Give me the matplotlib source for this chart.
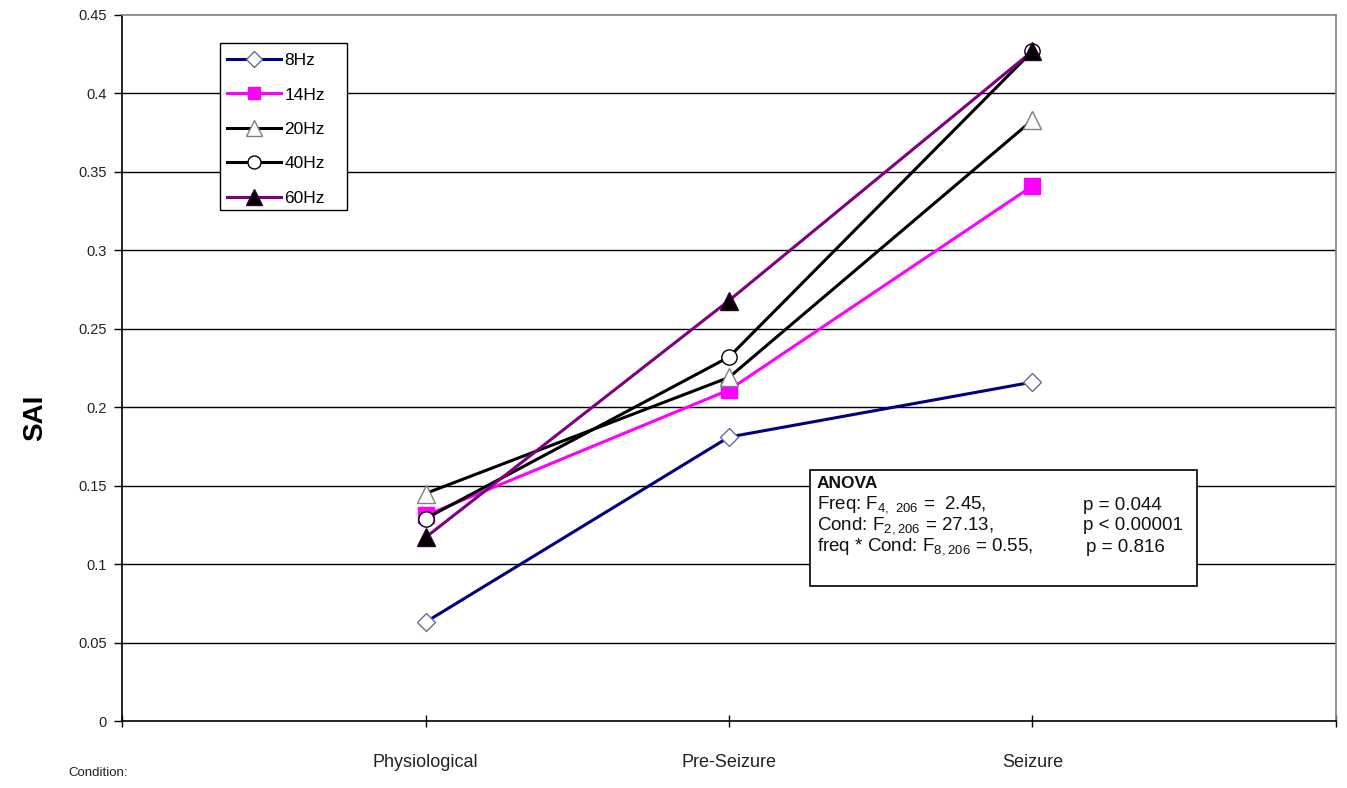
import numpy as np
import matplotlib
matplotlib.use("Agg")
import matplotlib.pyplot as plt

plt.rcParams['font.family'] = ['Liberation Sans', 'DejaVu Sans']
plt.rcParams['mathtext.fontset'] = 'custom'
plt.rcParams['mathtext.rm'] = 'Liberation Sans'

conditions = ["Physiological", "Pre-Seizure", "Seizure"]
sai_8hz = [0.063, 0.181, 0.216]
sai_14hz = [0.131, 0.211, 0.341]
sai_20hz = [0.145, 0.219, 0.383]
sai_40hz = [0.129, 0.232, 0.427]
sai_60hz = [0.117, 0.268, 0.427]
y_ticks = [0, 0.05, 0.1, 0.15, 0.2, 0.25, 0.3, 0.35, 0.4, 0.45]
y_tick_labels = ["0", "0.05", "0.1", "0.15", "0.2", "0.25", "0.3", "0.35", "0.4", "0.45"]

W, H = 1347, 788


def px(xp, yp):
    return xp / W, 1 - yp / H


fig = plt.figure(figsize=(W / 100, H / 100), dpi=100)
ax = fig.add_axes([0.0906, 0.085, 0.9012, 0.896])

x = np.arange(1, len(conditions) + 1)

series = [
    ("8Hz", sai_8hz, dict(color="#000080", marker="D", markersize=9,
                         markerfacecolor="white", markeredgecolor="#6a6a9a")),
    ("14Hz", sai_14hz, dict(color="#ff00ff", marker="s", markersize=11,
                           markerfacecolor="#ff00ff", markeredgecolor="#ff00ff")),
    ("20Hz", sai_20hz, dict(color="black", marker="^", markersize=13,
                           markerfacecolor="white", markeredgecolor="#808080")),
    ("40Hz", sai_40hz, dict(color="black", marker="o", markersize=11,
                           markerfacecolor="white", markeredgecolor="black")),
    ("60Hz", sai_60hz, dict(color="#800080", marker="^", markersize=13,
                           markerfacecolor="black", markeredgecolor="#300030")),
]

for i, (name, vals, style) in enumerate(series):
    ax.plot(x, vals, label=name, linewidth=2.2, markeredgewidth=1.0,
            zorder=3 + i, **style)

# horizontal gridlines
for yv in y_ticks[1:-1]:
    ax.axhline(yv, color="black", linewidth=1.0, zorder=1)

ax.set_xlim(0, 4)
ax.set_ylim(0, 0.45)
ax.set_yticks(y_ticks)
ax.set_yticklabels(y_tick_labels, fontsize=10.5, color="#222222")
ax.set_xticks([0, 1, 2, 3, 4])
ax.set_xticklabels(["", conditions[0], conditions[1], conditions[2], ""],
                   fontsize=13, color="#222222")
ax.tick_params(axis="x", direction="inout", length=8, width=1, pad=20)
ax.tick_params(axis="y", direction="out", length=6, width=1, pad=5)

for side in ["top", "right"]:
    ax.spines[side].set_color("#808080")
    ax.spines[side].set_linewidth(1.2)
for side in ["left", "bottom"]:
    ax.spines[side].set_color("black")
    ax.spines[side].set_linewidth(1.2)

fig.text(35 / W, 1 - 418 / H, "SAI", fontsize=20, fontweight="bold",
         rotation=90, ha="center", va="center")

fig.text(68 / W, 1 - 773 / H, "Condition:", fontsize=9.5,
         ha="left", va="center", color="#222222")

# legend box drawn as its own rectangle so its size can be set directly
ax.add_patch(plt.Rectangle(px(220, 210), 127 / W, 167 / H,
                           transform=fig.transFigure, facecolor="white",
                           edgecolor="black", linewidth=1.0, zorder=9,
                           clip_on=False))
leg = ax.legend(loc="upper left", bbox_to_anchor=px(220, 46),
                bbox_transform=fig.transFigure,
                frameon=False, fontsize=12.5, handlelength=3.1,
                handletextpad=0.2, labelspacing=1.11, borderpad=0.4,
                borderaxespad=0, markerscale=0.85)
leg.set_zorder(10)

# ANOVA results box
fig.patches.append(plt.Rectangle(px(810, 586), 387 / W, 116 / H,
                                 transform=fig.transFigure, facecolor="white",
                                 edgecolor="black", linewidth=1.2, zorder=20))

kw = dict(fontsize=13.5, ha="left", va="center", color="#111111", zorder=21)
fig.text(*px(817, 484), "ANOVA", fontweight="bold", fontsize=12.5,
         ha="left", va="center", color="#111111", zorder=21)
fig.text(*px(817, 505), r"Freq: F$_{\mathregular{4,\ 206}}$ =  2.45,", **kw)
fig.text(*px(817, 526), r"Cond: F$_{\mathregular{2,206}}$ = 27.13,", **kw)
fig.text(*px(817, 547), r"freq * Cond: F$_{\mathregular{8,206}}$ = 0.55,", **kw)
fig.text(*px(1083, 505), "p = 0.044", **kw)
fig.text(*px(1083, 526), "p < 0.00001", **kw)
fig.text(*px(1086, 547), "p = 0.816", **kw)

fig.savefig("out.png", dpi=100)
